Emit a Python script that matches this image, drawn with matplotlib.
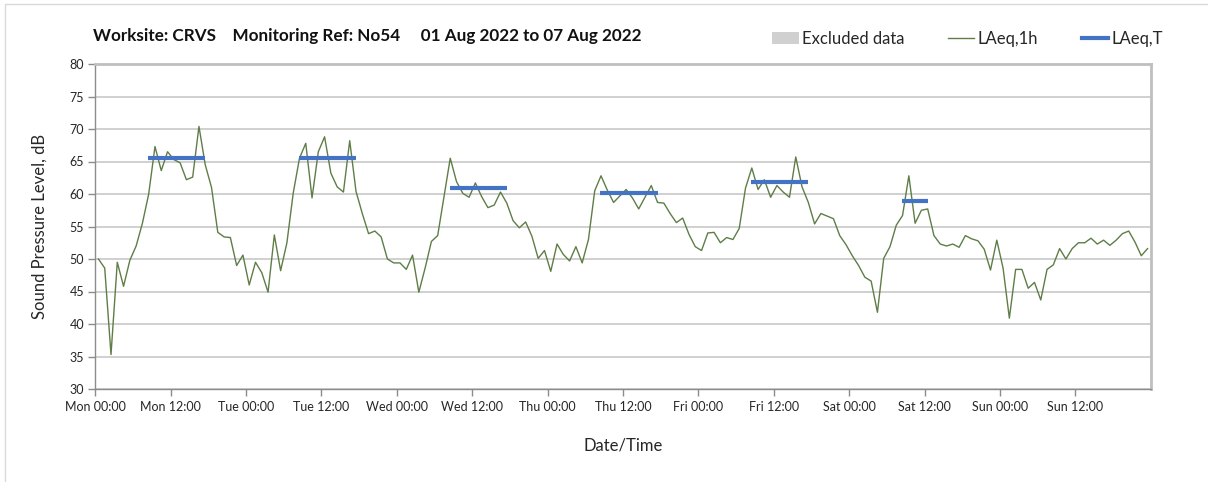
import matplotlib
matplotlib.use("Agg")
import matplotlib.pyplot as plt
from matplotlib.lines import Line2D
from matplotlib.patches import Patch, Rectangle
import numpy as np

plt.rcParams['font.family'] = ['Lato', 'DejaVu Sans']

# Hourly LAeq,1h values, Mon 00:00 .. Sun 23:00 (168 hours)
laeq_1h = [
    50.0, 48.6, 35.3, 49.5, 45.8, 49.8, 52.0, 55.5, 60.0, 67.3, 63.6, 66.5,
    65.3, 64.8, 62.2, 62.6, 70.4, 64.5, 61.0, 54.1, 53.4, 53.3, 49.0, 50.6,
    46.0, 49.5, 47.9, 44.9, 53.7, 48.2, 52.5, 60.1, 65.5, 67.8, 59.4, 66.5,
    68.8, 63.2, 61.1, 60.3, 68.2, 60.4, 57.0, 53.9, 54.3, 53.4, 50.0, 49.4,
    49.4, 48.4, 50.6, 44.9, 48.6, 52.7, 53.6, 59.5, 65.5, 61.9, 60.1, 59.5,
    61.7, 59.6, 57.9, 58.3, 60.3, 58.6, 55.9, 54.8, 55.7, 53.5, 50.1, 51.3,
    48.1, 52.3, 50.7, 49.7, 51.9, 49.4, 53.0, 60.5, 62.8, 60.6, 58.7, 59.7,
    60.7, 59.4, 57.7, 59.5, 61.3, 58.7, 58.6, 57.0, 55.6, 56.3, 53.8, 51.9,
    51.3, 54.0, 54.1, 52.5, 53.3, 53.0, 54.7, 60.9, 64.0, 60.7, 62.2, 59.5,
    61.3, 60.3, 59.5, 65.7, 61.1, 58.7, 55.4, 57.0, 56.6, 56.2, 53.6, 52.2,
    50.5, 49.0, 47.2, 46.6, 41.8, 50.1, 51.9, 55.2, 56.7, 62.8, 55.5, 57.5,
    57.7, 53.6, 52.3, 52.0, 52.3, 51.8, 53.6, 53.1, 52.8, 51.5, 48.3, 52.9,
    48.6, 40.9, 48.4, 48.4, 45.5, 46.4, 43.7, 48.4, 49.1, 51.6, 50.0, 51.6,
    52.5, 52.5, 53.2, 52.3, 52.9, 52.1, 52.9, 53.9, 54.3, 52.6, 50.5, 51.6,
]

# LAeq,T periods (hours from Mon 00:00) and levels
laeq_t_start = [8, 32, 56, 80, 104, 128]
laeq_t_end = [18, 42, 66, 90, 114, 133]
laeq_t_value = [65.6, 65.5, 61.0, 60.1, 61.8, 58.9]

days = ["Mon", "Tue", "Wed", "Thu", "Fri", "Sat", "Sun"]
tick_labels = [f"{d} {h}" for d in days for h in ("00:00", "12:00")]

W, H = 1208, 482
fig = plt.figure(figsize=(W / 100, H / 100), dpi=100)
fig.patches.append(Rectangle((5 / W, -0.1), 1.2, 1 - 4 / H + 0.1,
                             transform=fig.transFigure, fill=False,
                             edgecolor='#d9d9d9', linewidth=1.0))

ax = fig.add_axes([95.3 / W, 1 - 389 / H, (1150.7 - 95.3) / W, (389 - 64) / H])

hours = np.arange(len(laeq_1h)) + 0.5
ax.plot(hours, laeq_1h, color='#5f7d47', linewidth=1.0, zorder=3)
for s, e, v in zip(laeq_t_start, laeq_t_end, laeq_t_value):
    ax.plot([s + 0.4, e - 0.5], [v, v], color='#4472c4', linewidth=3.0,
            solid_capstyle='butt', zorder=4)

ax.set_xlim(0, 168)
ax.set_ylim(30, 80)
ax.set_yticks(np.arange(30, 81, 5))
ax.set_xticks(np.arange(0, 168, 12))
ax.set_xticklabels(tick_labels)
ax.set_xticks(np.arange(0, 169, 24), minor=True)

ax.grid(axis='y', which='major', color='#c8c8c8', linewidth=1.2, zorder=0)
ax.grid(axis='x', which='minor', color='#dcdcdc', linewidth=1.0, zorder=0)
ax.tick_params(axis='x', which='minor', length=0)
ax.tick_params(axis='both', which='major', direction='out', length=5,
               color='#8c8c8c', width=1, labelsize=9, labelcolor='#262626')
ax.tick_params(axis='y', pad=3)

for side in ('left', 'bottom'):
    ax.spines[side].set_color('#8c8c8c')
    ax.spines[side].set_linewidth(1.0)
for side in ('top', 'right'):
    ax.spines[side].set_color('#bfbfbf')
    ax.spines[side].set_linewidth(2.0)

ax.set_ylabel("Sound Pressure Level, dB", fontsize=12, color='#262626', labelpad=16)
ax.set_xlabel("Date/Time", fontsize=12, color='#262626', labelpad=18)

fig.text(93 / W, 1 - 36 / H,
         "Worksite: CRVS    Monitoring Ref: No54     01 Aug 2022 to 07 Aug 2022",
         fontsize=12.3, fontweight='bold', color='#111111', va='center', ha='left')

handles = [Patch(facecolor='#d0d0d0', edgecolor='none'),
           Line2D([], [], color='#5f7d47', linewidth=1.0),
           Line2D([], [], color='#4472c4', linewidth=3.0)]
fig.legend(handles, ["Excluded data", "LAeq,1h", "LAeq,T"], ncol=3,
           loc='center right', bbox_to_anchor=(1178 / W, 1 - 39 / H),
           frameon=False, fontsize=12, handlelength=1.6, handletextpad=0.2,
           columnspacing=2.6, handleheight=0.7, labelcolor='#262626')

fig.savefig("out.png", dpi=100)
